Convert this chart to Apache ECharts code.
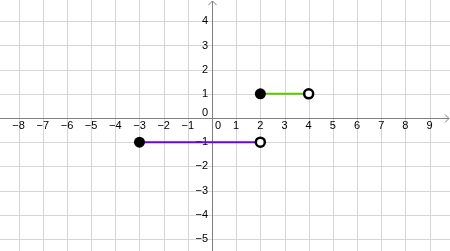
<!DOCTYPE html>
<html>
<head>
<meta charset="utf-8">
<script src="https://cdn.jsdelivr.net/npm/echarts@6/dist/echarts.min.js"></script>
<style>
html,body{margin:0;padding:0;background:#fff;}
#c{width:450px;height:251px;}
</style>
</head>
<body>
<div id="c"></div>
<script>
// ---- data ----
const xTicks = [-8,-7,-6,-5,-4,-3,-2,-1,0,1,2,3,4,5,6,7,8,9];
const yTicks = [-5,-4,-3,-2,-1,0,1,2,3,4];
const greenSegment = [[2,1],[4,1]];
const purpleSegment = [[-3,-1],[2,-1]];
const closedPoints = [[2,1],[-3,-1]];
const openPoints = [[4,1],[2,-1]];
const xRange = [-8.771, 9.847];
const yRange = [-5.503, 4.882];

const MINUS = '\u2212';
function fmt(v){ return v < 0 ? MINUS + Math.abs(v) : String(v); }
const FONT = '11px "Liberation Sans", Arial, sans-serif';
const GRID_COLOR = '#d6d6d6';
const AXIS_COLOR = '#808080';
function px(v){ return Math.round(v) + 0.5; }

const chart = echarts.init(document.getElementById('c'), null, {renderer:'canvas'});

const option = {
  animation:false,
  backgroundColor:'#ffffff',
  grid:{left:0,right:0,top:0,bottom:0,containLabel:false},
  xAxis:{type:'value',min:xRange[0],max:xRange[1],
    axisLine:{show:false},axisTick:{show:false},axisLabel:{show:false},splitLine:{show:false}},
  yAxis:{type:'value',min:yRange[0],max:yRange[1],
    axisLine:{show:false},axisTick:{show:false},axisLabel:{show:false},splitLine:{show:false}},
  series:[
    { // vertical grid lines + x labels
      type:'custom', z:1, silent:true,
      data: xTicks.map(v=>[v,0]),
      renderItem:function(params, api){
        const cs = params.coordSys;
        const p = api.coord([api.value(0), 0]);
        const x = px(p[0]);
        const children = [];
        if (api.value(0) !== 0) {
          children.push({type:'line', shape:{x1:x,y1:cs.y,x2:x,y2:cs.y+cs.height},
            style:{stroke:GRID_COLOR,lineWidth:1}});
        }
        const isZero = api.value(0) === 0;
        children.push({type:'text', z2:10, style:{
          text: fmt(api.value(0)), x: isZero ? p[0]+3 : p[0], y: p[1]+7.5,
          align: isZero ? 'left' : 'center', verticalAlign:'middle',
          font: FONT, fill:'#000'}});
        return {type:'group', children:children};
      }
    },
    { // horizontal grid lines + y labels
      type:'custom', z:1, silent:true,
      data: yTicks.map(v=>[0,v]),
      renderItem:function(params, api){
        const cs = params.coordSys;
        const p = api.coord([0, api.value(1)]);
        const y = px(p[1]);
        const children = [];
        if (api.value(1) !== 0) {
          children.push({type:'line', shape:{x1:cs.x,y1:y,x2:cs.x+cs.width,y2:y},
            style:{stroke:GRID_COLOR,lineWidth:1}});
        }
        const isZero = api.value(1) === 0;
        children.push({type:'text', z2:10, style:{
          text: fmt(api.value(1)), x: p[0]-4, y: isZero ? p[1]-5 : p[1],
          align:'right', verticalAlign:'middle', font: FONT, fill:'#000'}});
        return {type:'group', children:children};
      }
    },
    { // axes with open arrows
      type:'custom', z:2, silent:true,
      data:[[0,0]],
      renderItem:function(params, api){
        const cs = params.coordSys;
        const o = api.coord([0,0]);
        const ox = px(o[0]), oy = px(o[1]);
        const right = cs.x + cs.width - 1, top = cs.y + 1;
        return {type:'group', children:[
          {type:'line', shape:{x1:cs.x,y1:oy,x2:right,y2:oy}, style:{stroke:AXIS_COLOR,lineWidth:1}},
          {type:'line', shape:{x1:ox,y1:top,x2:ox,y2:cs.y+cs.height}, style:{stroke:AXIS_COLOR,lineWidth:1}},
          {type:'polyline', shape:{points:[[right-4,oy-4],[right,oy],[right-4,oy+4]]},
            style:{stroke:AXIS_COLOR,lineWidth:1,fill:null}},
          {type:'polyline', shape:{points:[[ox-4,top+4],[ox,top],[ox+4,top+4]]},
            style:{stroke:AXIS_COLOR,lineWidth:1,fill:null}}
        ]};
      }
    },
    { type:'line', z:3, data:greenSegment, showSymbol:false, symbol:'none', silent:true,
      lineStyle:{color:'#5cc800', width:2} },
    { type:'line', z:3, data:purpleSegment, showSymbol:false, symbol:'none', silent:true,
      lineStyle:{color:'#7000e0', width:2} },
    { type:'scatter', z:4, data:closedPoints, symbol:'circle', symbolSize:11, silent:true,
      itemStyle:{color:'#000', opacity:1} },
    { type:'scatter', z:4, data:openPoints, symbol:'circle', symbolSize:9, silent:true,
      itemStyle:{color:'#fff', borderColor:'#000', borderWidth:2.5, opacity:1} }
  ]
};
chart.setOption(option);
</script>
</body>
</html>
